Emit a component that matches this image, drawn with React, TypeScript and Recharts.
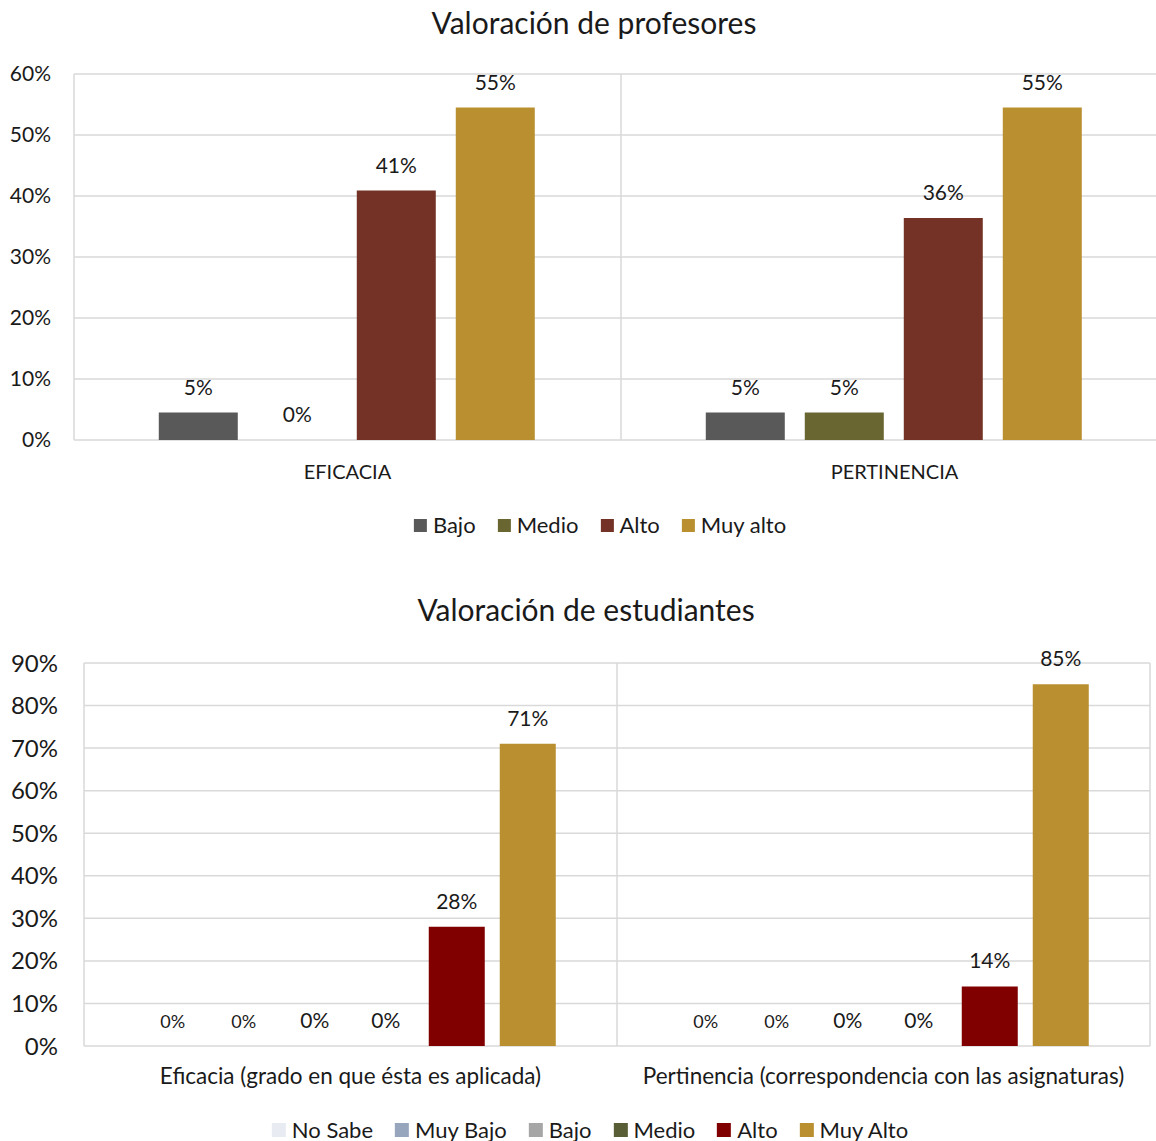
import { BarChart, Bar, XAxis, YAxis, CartesianGrid, LabelList } from 'recharts'

const FONT = 'Lato, "Open Sans", sans-serif'
const TEXT = '#1a1a1a'
const GRID = '#d9d9d9'

// Valoración de profesores
const profCategorias = ['EFICACIA', 'PERTINENCIA']
const profBajo = [0.045, 0.045]
const profMedio = [0, 0.045]
const profAlto = [0.409, 0.364]
const profMuyAlto = [0.545, 0.545]
const profTicks = [0, 0.1, 0.2, 0.3, 0.4, 0.5, 0.6]

// Valoración de estudiantes
const estCategorias = [
  'Eficacia (grado en que ésta es aplicada)',
  'Pertinencia (correspondencia con las asignaturas)',
]
const estNoSabe = [0, 0]
const estMuyBajo = [0, 0]
const estBajo = [0, 0]
const estMedio = [0, 0]
const estAlto = [0.28, 0.14]
const estMuyAlto = [0.71, 0.85]
const estTicks = [0, 0.1, 0.2, 0.3, 0.4, 0.5, 0.6, 0.7, 0.8, 0.9]

interface Serie {
  key: string
  name: string
  color: string
  values: number[]
  labelSize: number
}

const profSeries: Serie[] = [
  { key: 'bajo', name: 'Bajo', color: '#595959', values: profBajo, labelSize: 21 },
  { key: 'medio', name: 'Medio', color: '#6a6632', values: profMedio, labelSize: 21 },
  { key: 'alto', name: 'Alto', color: '#733225', values: profAlto, labelSize: 21 },
  { key: 'muyAlto', name: 'Muy alto', color: '#b98f2f', values: profMuyAlto, labelSize: 21 },
]

const estSeries: Serie[] = [
  { key: 'noSabe', name: 'No Sabe', color: '#e8ecf2', values: estNoSabe, labelSize: 18 },
  { key: 'muyBajo', name: 'Muy Bajo', color: '#97a6bd', values: estMuyBajo, labelSize: 18 },
  { key: 'bajo', name: 'Bajo', color: '#a6a6a6', values: estBajo, labelSize: 21 },
  { key: 'medio', name: 'Medio', color: '#5a5e36', values: estMedio, labelSize: 21 },
  { key: 'alto', name: 'Alto', color: '#800000', values: estAlto, labelSize: 21 },
  { key: 'muyAlto', name: 'Muy Alto', color: '#b98f2f', values: estMuyAlto, labelSize: 21 },
]

const buildRows = (cats: string[], series: Serie[]) =>
  cats.map((cat, i) => {
    const row: Record<string, string | number> = { cat }
    series.forEach((s) => (row[s.key] = s.values[i]))
    return row
  })

const pct = (v: any) => `${Math.round(Number(v) * 100)}%`

// lineas verticales en los limites de cada categoria
const bordes = ({ offset }: any) => [
  offset.left,
  offset.left + offset.width / 2,
  offset.left + offset.width,
]

function Leyenda({ items, fontSize, square }: { items: Serie[]; fontSize: number; square: number }) {
  return (
    <div style={{ display: 'flex', alignItems: 'center', gap: 22, fontSize, fontFamily: FONT, color: TEXT, whiteSpace: 'nowrap', lineHeight: 1 }}>
      {items.map((s) => (
        <span key={s.key} style={{ display: 'flex', alignItems: 'center' }}>
          <span style={{ width: square, height: square, background: s.color, marginRight: 6, display: 'inline-block' }} />
          {s.name}
        </span>
      ))}
    </div>
  )
}

function Titulo({ text, x, y, size }: { text: string; x: number; y: number; size: number }) {
  return (
    <div style={{ position: 'absolute', left: x, top: y, transform: 'translate(-50%, -50%)', fontFamily: FONT, fontSize: size, color: TEXT, lineHeight: 1, whiteSpace: 'nowrap' }}>
      {text}
    </div>
  )
}

export default function App() {
  const profData = buildRows(profCategorias, profSeries)
  const estData = buildRows(estCategorias, estSeries)

  return (
    <div style={{ position: 'absolute', left: 0, top: 0, width: 1156, height: 1141, background: '#fff', overflow: 'hidden' }}>
      <Titulo text="Valoración de profesores" x={594} y={22} size={30} />
      <div style={{ position: 'absolute', left: 0, top: 0 }}>
        <BarChart width={1168} height={500} data={profData} margin={{ top: 74, right: 0, left: 10, bottom: 0 }} barCategoryGap="15.5%" barGap={20}>
          <CartesianGrid stroke={GRID} strokeWidth={1.5} verticalCoordinatesGenerator={bordes} />
          <XAxis dataKey="cat" axisLine={false} tickLine={false} tickSize={0} tickMargin={25} height={60} interval={0}
            tick={{ fill: TEXT, fontSize: 20, fontFamily: FONT }} />
          <YAxis domain={[0, 0.6]} ticks={profTicks} tickFormatter={pct} axisLine={false} tickLine={false} tickSize={0} tickMargin={23} width={64}
            tick={{ fill: TEXT, fontSize: 21, fontFamily: FONT }} />
          {profSeries.map((s) => (
            <Bar key={s.key} dataKey={s.key} name={s.name} fill={s.color} minPointSize={0.01} isAnimationActive={false}>
              <LabelList dataKey={s.key} position="top" offset={18} formatter={pct} fill={TEXT} fontSize={s.labelSize} fontFamily={FONT} />
            </Bar>
          ))}
        </BarChart>
      </div>
      <div style={{ position: 'absolute', left: 600, top: 525, transform: 'translate(-50%, -50%)' }}>
        <Leyenda items={profSeries} fontSize={22} square={13} />
      </div>

      <Titulo text="Valoración de estudiantes" x={586} y={609} size={30} />
      <div style={{ position: 'absolute', left: 0, top: 590 }}>
        <BarChart width={1156} height={516} data={estData} margin={{ top: 73, right: 6, left: 10, bottom: 0 }} barCategoryGap="11.4%" barGap={15}>
          <CartesianGrid stroke={GRID} strokeWidth={1.5} verticalCoordinatesGenerator={bordes} />
          <XAxis dataKey="cat" axisLine={false} tickLine={false} tickSize={0} tickMargin={22} height={60} interval={0}
            tick={{ fill: TEXT, fontSize: 22.5, fontFamily: FONT }} />
          <YAxis domain={[0, 0.9]} ticks={estTicks} tickFormatter={pct} axisLine={false} tickLine={false} tickSize={0} tickMargin={26} width={74}
            tick={{ fill: TEXT, fontSize: 24, fontFamily: FONT }} />
          {estSeries.map((s) => (
            <Bar key={s.key} dataKey={s.key} name={s.name} fill={s.color} minPointSize={0.01} isAnimationActive={false}>
              <LabelList dataKey={s.key} position="top" offset={18} formatter={pct} fill={TEXT} fontSize={s.labelSize} fontFamily={FONT} />
            </Bar>
          ))}
        </BarChart>
      </div>
      <div style={{ position: 'absolute', left: 590, top: 1130, transform: 'translate(-50%, -50%)' }}>
        <Leyenda items={estSeries} fontSize={22} square={14} />
      </div>
    </div>
  )
}
